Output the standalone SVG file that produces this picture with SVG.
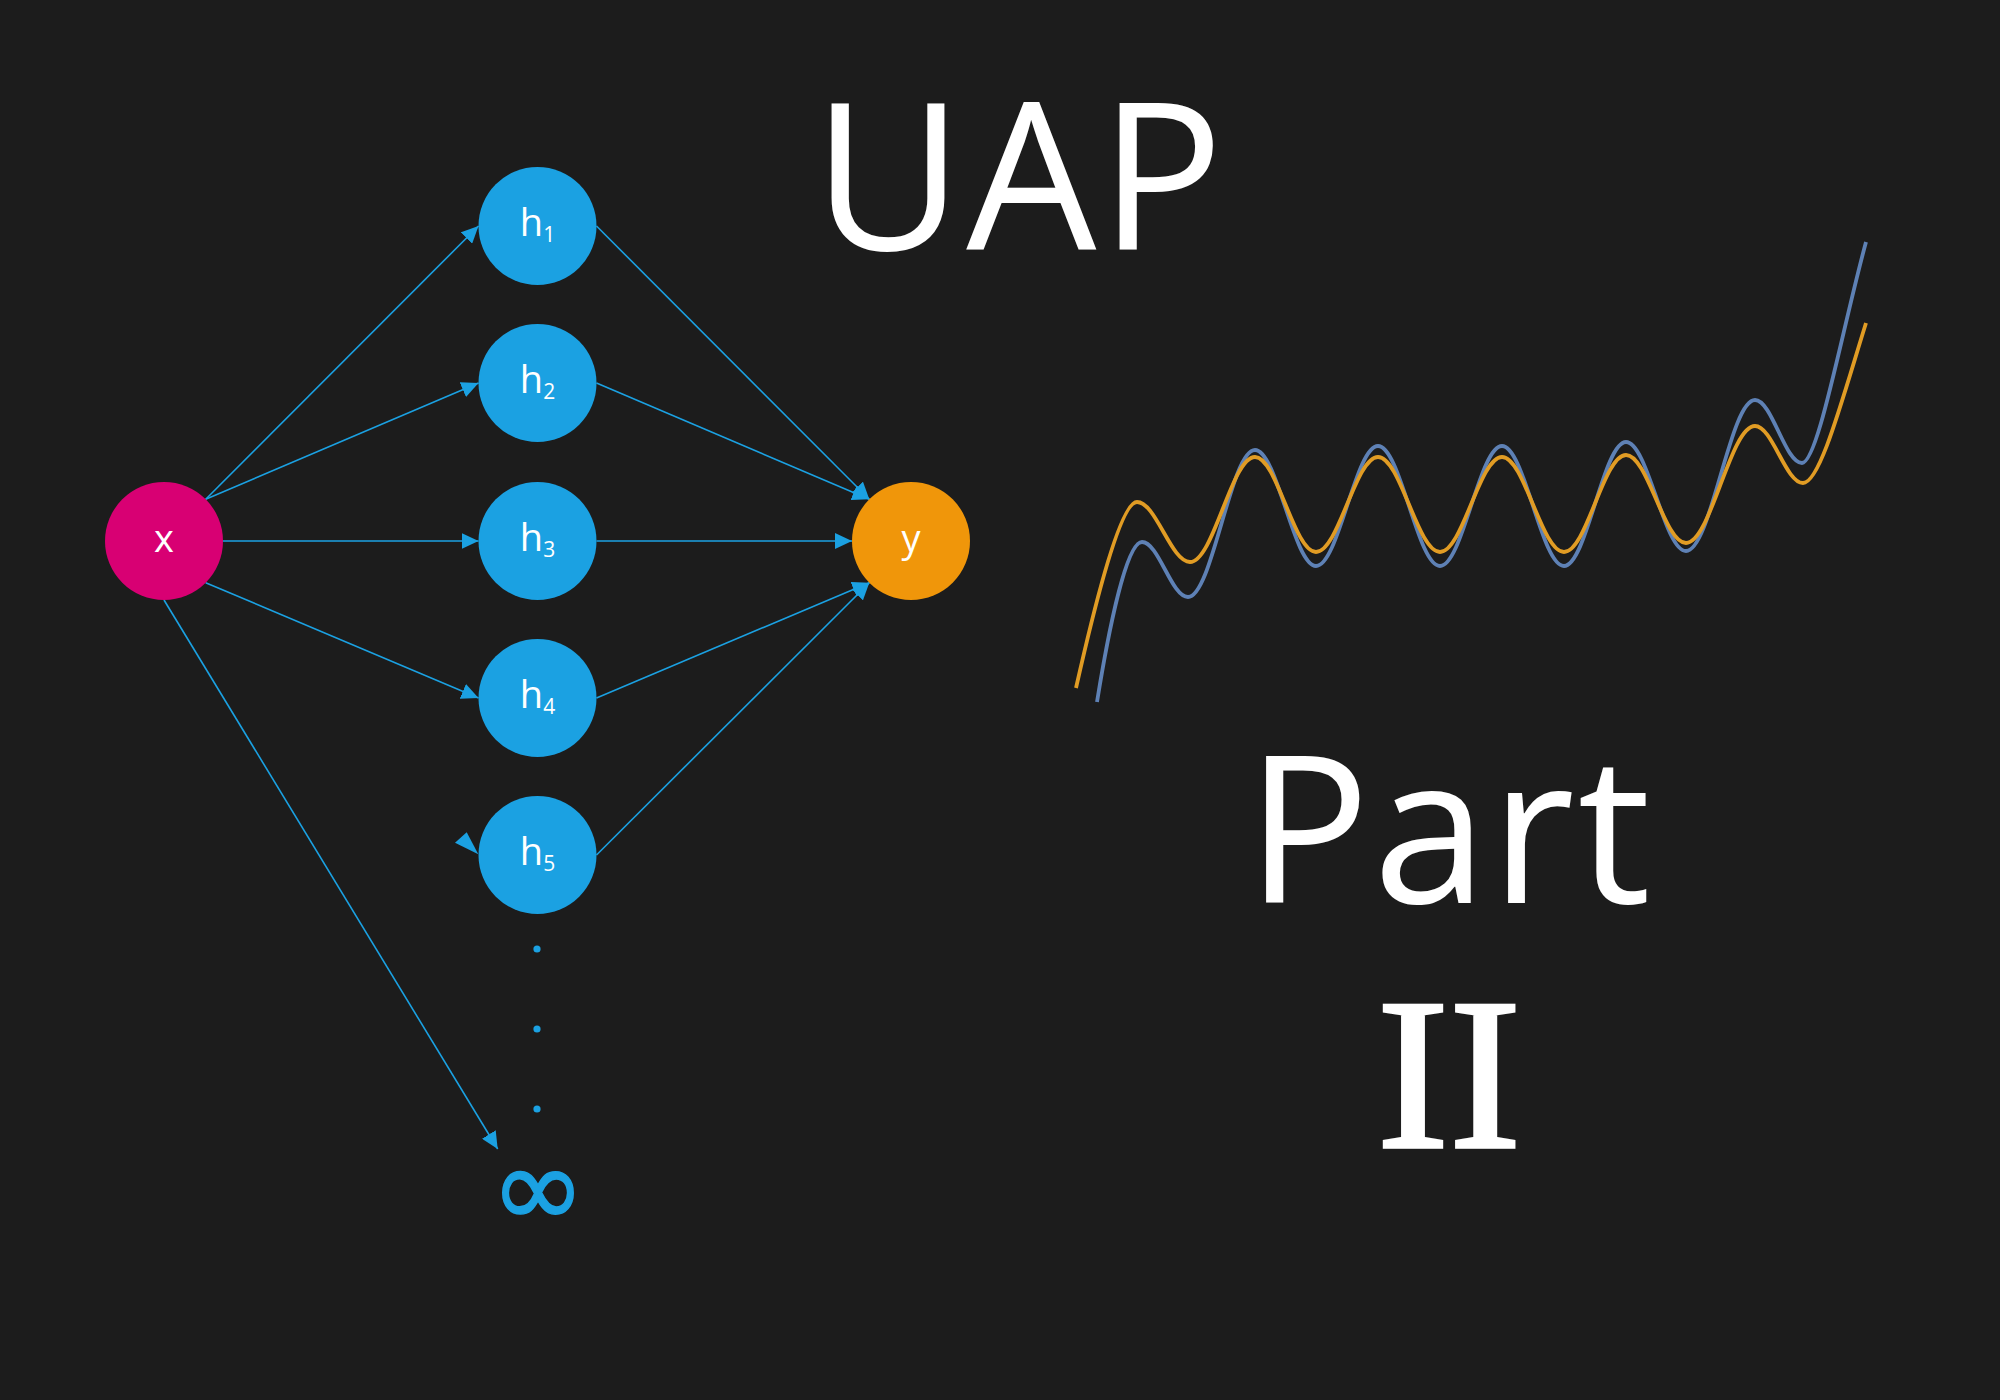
<svg xmlns="http://www.w3.org/2000/svg" width="2000" height="1400" viewBox="0 0 2000 1400">
  <defs>
    <style>
      .node-h { fill: #1BA1E2; }
      .node-x { fill: #D80073; }
      .node-y { fill: #F0960A; }
      .lbl { font-family: "Open Sans", "Noto Sans", "Liberation Sans", sans-serif; font-size: 38px; fill: #FFFFFF; text-anchor: middle; }
      .sub { font-size: 21px; }
      .edge { stroke: #1BA1E2; stroke-width: 1.6; fill: none; marker-end: url(#arr); }
      .title { font-family: "Open Sans", "Noto Sans", "Liberation Sans", sans-serif; font-size: 206px; fill: #FFFFFF; }
      .roman { font-family: "Liberation Serif", "DejaVu Serif", serif; font-size: 217px; fill: #FFFFFF; stroke: #FFFFFF; stroke-width: 3.5; text-anchor: middle; }
      .curve { fill: none; stroke-width: 3.8; stroke-linejoin: round; stroke-linecap: butt; }
    </style>
    <marker id="arr" markerUnits="userSpaceOnUse" markerWidth="18" markerHeight="16" refX="17" refY="8" orient="auto">
      <path d="M0,0 L17,8 L0,16 Z" fill="#1BA1E2"/>
    </marker>
  </defs>

  <rect x="0" y="0" width="2000" height="1400" fill="#1C1C1C"/>

  <g id="connectors">
    <line class="edge" x1="205.7" y1="499.3" x2="478.5" y2="226"/>
    <line class="edge" x1="205.7" y1="499.3" x2="478.5" y2="383"/>
    <line class="edge" x1="223" y1="541" x2="478.5" y2="541"/>
    <line class="edge" x1="205.7" y1="582.7" x2="478.5" y2="698"/>
    <line class="edge" x1="164" y1="600" x2="497.7" y2="1149"/>
    <line class="edge" x1="596.5" y1="226" x2="869.3" y2="499.3"/>
    <line class="edge" x1="596.5" y1="383" x2="869.3" y2="499.3"/>
    <line class="edge" x1="596.5" y1="541" x2="852" y2="541"/>
    <line class="edge" x1="596.5" y1="698" x2="869.3" y2="582.7"/>
    <line class="edge" x1="596.5" y1="855" x2="869.3" y2="582.7"/>
    <polygon points="455,842.7 466.7,832.3 478.3,854.3" fill="#1BA1E2"/>
  </g>

  <g id="node-x">
    <circle class="node-x" cx="164" cy="541" r="59"/>
    <text class="lbl" x="164" y="552">x</text>
  </g>
  <g id="node-h1">
    <circle class="node-h" cx="537.5" cy="226" r="59"/>
    <text class="lbl" x="537.5" y="236">h<tspan class="sub" dy="6">1</tspan></text>
  </g>
  <g id="node-h2">
    <circle class="node-h" cx="537.5" cy="383" r="59"/>
    <text class="lbl" x="537.5" y="393">h<tspan class="sub" dy="6">2</tspan></text>
  </g>
  <g id="node-h3">
    <circle class="node-h" cx="537.5" cy="541" r="59"/>
    <text class="lbl" x="537.5" y="551">h<tspan class="sub" dy="6">3</tspan></text>
  </g>
  <g id="node-h4">
    <circle class="node-h" cx="537.5" cy="698" r="59"/>
    <text class="lbl" x="537.5" y="708">h<tspan class="sub" dy="6">4</tspan></text>
  </g>
  <g id="node-h5">
    <circle class="node-h" cx="537.5" cy="855" r="59"/>
    <text class="lbl" x="537.5" y="865">h<tspan class="sub" dy="6">5</tspan></text>
  </g>
  <g id="node-y">
    <circle class="node-y" cx="911" cy="541" r="59"/>
    <text class="lbl" x="911" y="552">y</text>
  </g>
  <g id="ellipsis">
    <circle cx="537" cy="949" r="3.6" fill="#1BA1E2"/>
    <circle cx="537" cy="1029" r="3.6" fill="#1BA1E2"/>
    <circle cx="537" cy="1109" r="3.6" fill="#1BA1E2"/>
  </g>
  <g id="node-inf">
    <text x="538" y="1227" font-family="DejaVu Sans, sans-serif" font-size="114" fill="#1BA1E2" stroke="#1BA1E2" stroke-width="1.5" text-anchor="middle">∞</text>
  </g>

  <g id="title">
    <text class="title" x="813" y="250" letter-spacing="3">UAP</text>
    <text class="title" x="1246" y="903" letter-spacing="3">Part</text>
    <text class="roman" x="1449" y="1147">II</text>
  </g>

  <g id="plot">
    <path class="curve" stroke="#5E81B5" d="M1097,702 C1108,634 1126,542 1142,542 C1158.7,542 1171.3,597 1188,597 C1212.3,597 1230.7,450 1255,450 C1277,450 1294,566 1316,566 C1338.5,566 1355.5,446 1378,446 C1400.5,446 1417.5,566 1440,566 C1462.5,566 1479.5,446 1502,446 C1524.5,446 1541.5,566 1564,566 C1586.5,566 1603.5,442 1626,442 C1647.8,442 1664.2,551 1686,551 C1711,551 1730,400 1755,400 C1772,400 1785,463 1802,463 C1818,463 1842,330 1866,242"/>
    <path class="curve" stroke="#E19C24" d="M1076,688 C1090,626 1119,502 1137,502 C1156,502 1171,562 1190,562 C1213.6,562 1231.4,457 1255,457 C1277,457 1294,552 1316,552 C1338.5,552 1355.5,457 1378,457 C1400.5,457 1417.5,552 1440,552 C1462.5,552 1479.5,457 1502,457 C1524.5,457 1541.5,552 1564,552 C1586.5,552 1603.5,455 1626,455 C1647.8,455 1664.2,543 1686,543 C1711,543 1730,426 1755,426 C1772.4,426 1785.6,483 1803,483 C1820,483 1842,400 1866,323"/>
  </g>
</svg>
